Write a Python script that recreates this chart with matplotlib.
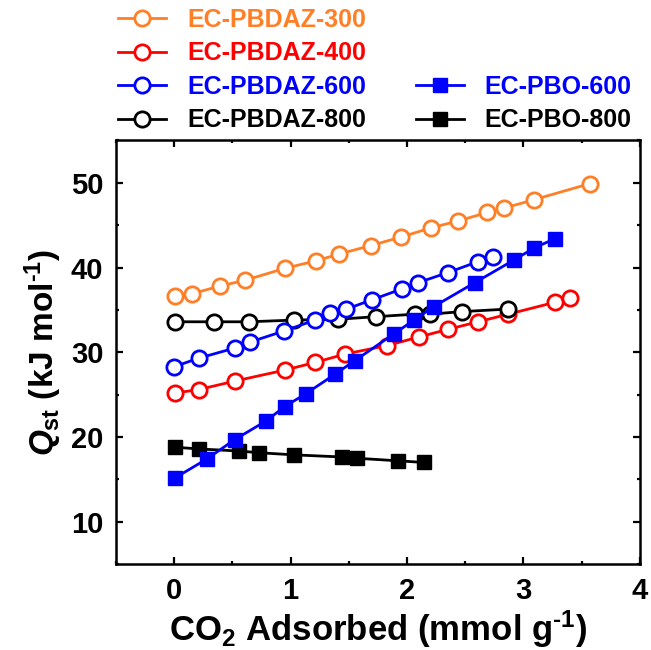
import numpy as np
import matplotlib
matplotlib.use('Agg')
import matplotlib.pyplot as plt
from matplotlib.lines import Line2D
from matplotlib.ticker import MultipleLocator

plt.rcParams['font.family'] = ['Liberation Sans', 'DejaVu Sans']
plt.rcParams['font.weight'] = 'bold'
plt.rcParams['mathtext.fontset'] = 'custom'
plt.rcParams['mathtext.rm'] = 'Liberation Sans:bold'
plt.rcParams['mathtext.it'] = 'Liberation Sans:bold:italic'
plt.rcParams['mathtext.bf'] = 'Liberation Sans:bold'

# EC-PBDAZ series (open circles)
x300 = [0.01, 0.15, 0.39, 0.61, 0.95, 1.22, 1.42, 1.69, 1.95, 2.21, 2.44, 2.69, 2.83, 3.09, 3.57]
y300 = [36.6, 36.9, 37.8, 38.5, 39.9, 40.8, 41.6, 42.6, 43.6, 44.7, 45.5, 46.5, 47.0, 48.0, 49.9]

x400 = [0.01, 0.21, 0.52, 0.95, 1.21, 1.47, 1.83, 2.10, 2.35, 2.61, 2.87, 3.27, 3.40]
y400 = [25.2, 25.6, 26.6, 27.9, 28.8, 29.8, 30.8, 31.8, 32.7, 33.6, 34.5, 35.9, 36.4]

x600 = [0.0, 0.21, 0.52, 0.65, 0.94, 1.21, 1.34, 1.48, 1.70, 1.96, 2.09, 2.35, 2.61, 2.74]
y600 = [28.3, 29.3, 30.5, 31.2, 32.5, 33.8, 34.6, 35.1, 36.2, 37.5, 38.2, 39.4, 40.7, 41.3]

x800 = [0.01, 0.34, 0.64, 1.03, 1.41, 1.73, 2.07, 2.20, 2.47, 2.87]
y800 = [33.6, 33.6, 33.6, 33.8, 33.9, 34.2, 34.5, 34.5, 34.8, 35.1]

# EC-PBO series (filled squares)
xpbo600 = [0.01, 0.28, 0.52, 0.79, 0.95, 1.13, 1.38, 1.55, 1.89, 2.06, 2.23, 2.58, 2.92, 3.09, 3.27]
ypbo600 = [15.2, 17.4, 19.7, 21.9, 23.6, 25.1, 27.4, 29.0, 32.2, 33.8, 35.4, 38.2, 40.9, 42.3, 43.4]

xpbo800 = [0.01, 0.21, 0.56, 0.73, 1.03, 1.44, 1.57, 1.92, 2.15]
ypbo800 = [18.8, 18.6, 18.35, 18.15, 17.9, 17.65, 17.5, 17.2, 17.0]

orange = '#FF7F27'
red = '#FF0000'
blue = '#0000FF'
black = '#000000'

fig = plt.figure(figsize=(6.51, 6.50), dpi=100)
ax = fig.add_axes([0.178, 0.132, 0.805, 0.652])

circ = dict(marker='o', markersize=11, markerfacecolor='white', markeredgewidth=2.0, linewidth=2.0)
sq = dict(marker='s', markersize=10.5, linewidth=2.0)

# plot order so that the overlaps look like the original
l300, = ax.plot(x300, y300, color=orange, label='EC-PBDAZ-300', **circ)
l400, = ax.plot(x400, y400, color=red, label='EC-PBDAZ-400', **circ)
l800, = ax.plot(x800, y800, color=black, label='EC-PBDAZ-800', **circ)
l600, = ax.plot(x600, y600, color=blue, label='EC-PBDAZ-600', **circ)
p800, = ax.plot(xpbo800, ypbo800, color=black, label='EC-PBO-800', **sq)
p600, = ax.plot(xpbo600, ypbo600, color=blue, label='EC-PBO-600', **sq)

ax.set_xlim(-0.5, 4)
ax.set_ylim(5, 55)
ax.xaxis.set_major_locator(MultipleLocator(1))
ax.xaxis.set_minor_locator(MultipleLocator(0.5))
ax.yaxis.set_major_locator(MultipleLocator(10))
ax.yaxis.set_minor_locator(MultipleLocator(5))
ax.tick_params(which='both', direction='in', top=True, right=True, width=1.6)
ax.tick_params(which='major', length=5, labelsize=21, pad=9)
ax.tick_params(which='minor', length=2.5)
for s in ax.spines.values():
    s.set_linewidth(1.8)

ax.set_xlabel(r'CO$_2$ Adsorbed (mmol g$^{\text{-}1}$)', fontsize=25, fontweight='bold', labelpad=3)
ax.set_ylabel(r'$\mathit{Q}_{\mathrm{st}}$ (kJ mol$^{\text{-}1}$)', fontsize=24, fontweight='bold', labelpad=5)

blank = Line2D([], [], linestyle='none', marker='none')
handles = [l300, l400, l600, l800, blank, blank, p600, p800]
labels = ['EC-PBDAZ-300', 'EC-PBDAZ-400', 'EC-PBDAZ-600', 'EC-PBDAZ-800', '', '', 'EC-PBO-600', 'EC-PBO-800']
leg = fig.legend(handles, labels, ncol=2, loc='upper left', bbox_to_anchor=(0.182, 0.988),
                 frameon=False, fontsize=18, handlelength=1.9, labelspacing=0.38,
                 columnspacing=2.0, handletextpad=0.85, borderpad=0, borderaxespad=0)
cols = [orange, red, blue, black, black, black, blue, black]
for t, c in zip(leg.get_texts(), cols):
    t.set_color(c)
    t.set_fontweight('bold')

fig.savefig('out.png', dpi=100)
